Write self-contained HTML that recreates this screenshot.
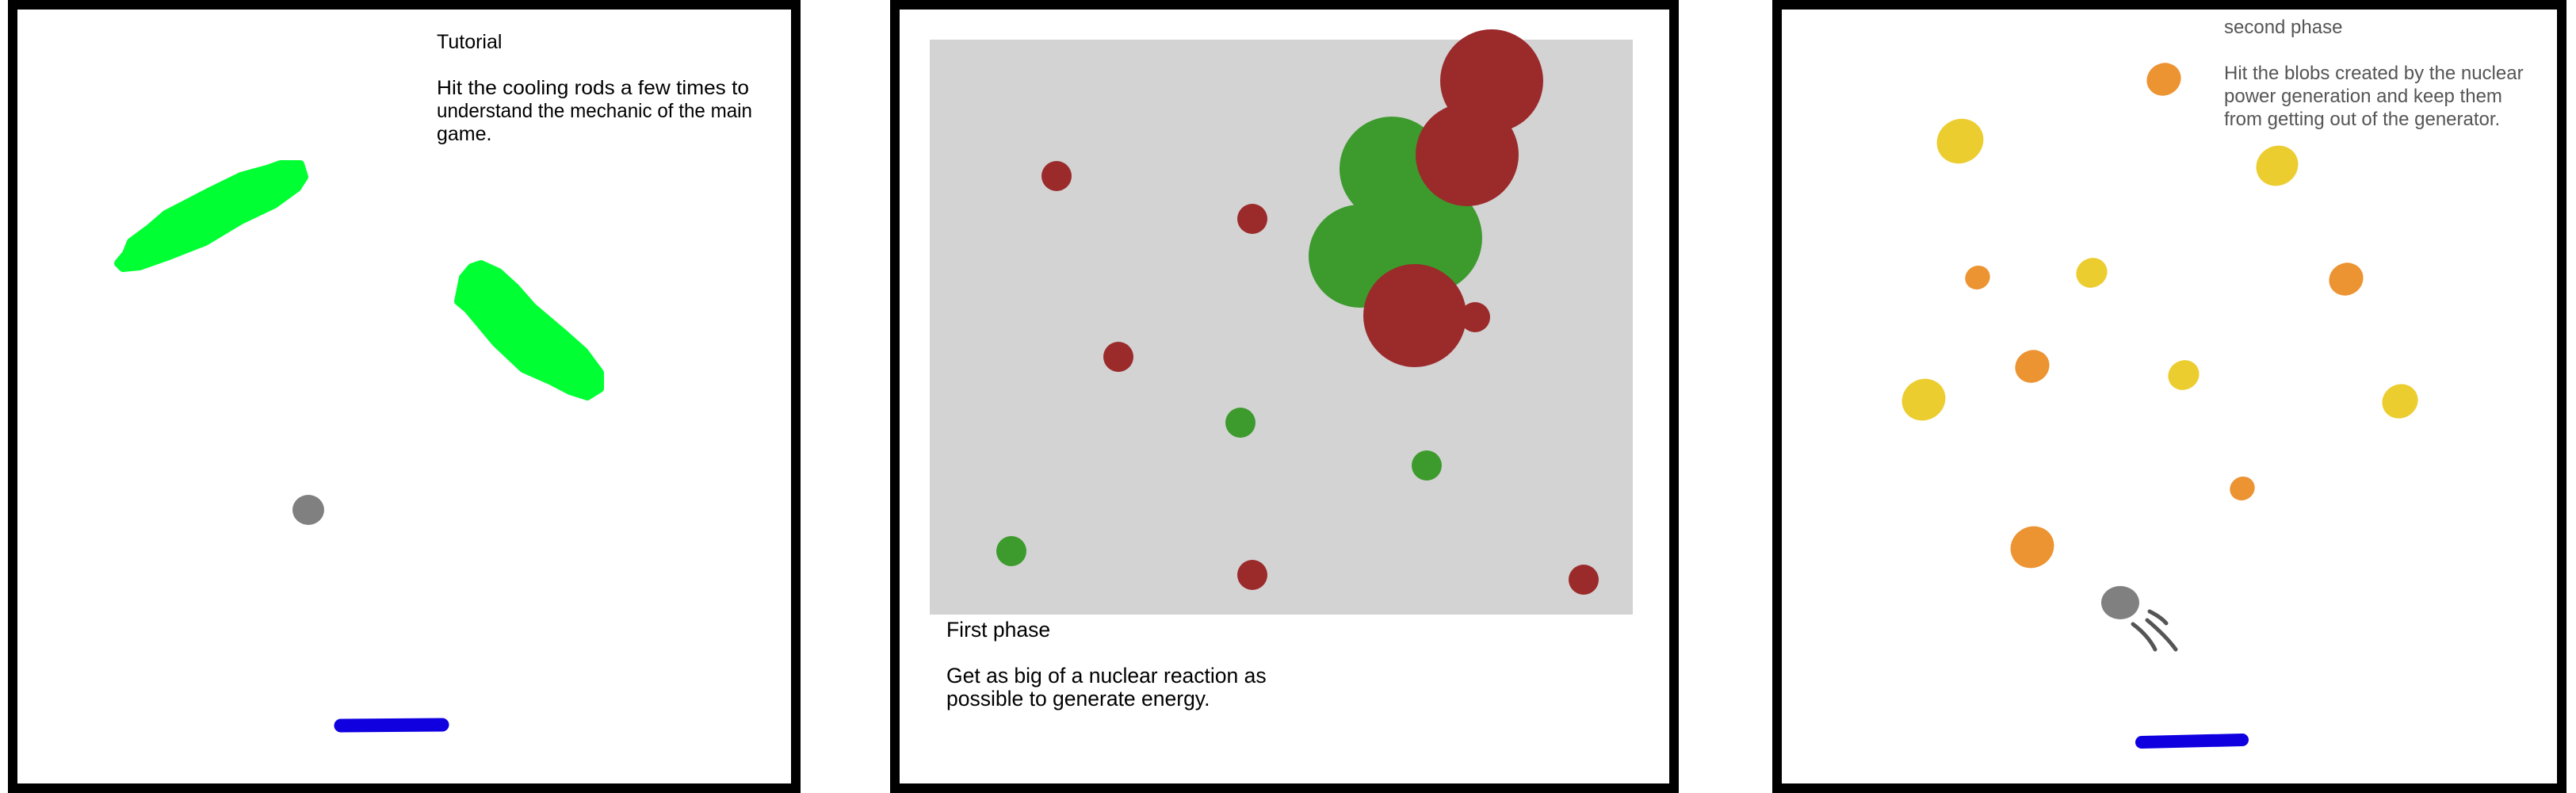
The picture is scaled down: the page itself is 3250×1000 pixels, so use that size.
<!DOCTYPE html>
<html><head><meta charset="utf-8">
<style>
html,body{margin:0;padding:0;background:#fff;}
body{width:3250px;height:1000px;overflow:hidden;position:relative;font-family:"Liberation Sans","DejaVu Sans",sans-serif;}
svg{position:absolute;left:0;top:0;}
text{font-family:"Liberation Sans","DejaVu Sans",sans-serif;font-size:24px;}
.big{font-size:26.5px;}
.mid{font-size:25px;}
</style></head>
<body>
<svg width="3250" height="1000" viewBox="0 0 3250 1000">
  <!-- Panel 1 -->
  <g>
    <rect x="16" y="6" width="988" height="988" fill="#fff" stroke="#000" stroke-width="12"/>
    <text class="mid" x="551" y="61" fill="#000">Tutorial</text>
    <text class="mid" x="551" y="119" fill="#000" textLength="394" lengthAdjust="spacingAndGlyphs">Hit the cooling rods a few times to</text>
    <text class="mid" x="551" y="148" fill="#000" textLength="398" lengthAdjust="spacingAndGlyphs">understand the mechanic of the main</text>
    <text class="mid" x="551" y="177" fill="#000">game.</text>
    <polygon points="149,332 159,320 165,305 188,288 209,270 242,253 263,242 304,222 337,213 354,207 379,207 384,223 375,237 346,258 304,278 259,305 213,323 176,336 155,338" fill="#00ff33" stroke="#00ff33" stroke-width="10" stroke-linejoin="round"/>
    <polygon points="578,380 584,350 595,337 607,333 629,343 651,363 672,387 711,420 737,443 757,470 757,490 741,500 719,493 694,480 660,465 626,433 590,390" fill="#00ff33" stroke="#00ff33" stroke-width="10" stroke-linejoin="round"/>
    <ellipse cx="389" cy="643" rx="20" ry="19" fill="#808080"/>
    <line x1="430" y1="915" x2="558" y2="914" stroke="#1000e0" stroke-width="17" stroke-linecap="round"/>
  </g>

  <!-- Panel 2 -->
  <g>
    <rect x="1129" y="6" width="983" height="988" fill="#fff" stroke="#000" stroke-width="12"/>
    <rect x="1173" y="50" width="887" height="725" fill="#d3d3d3"/>
    <g id="reaction"></g>
    <text class="big" x="1194" y="803" fill="#000">First phase</text>
    <text class="big" fill="#000">
      <tspan x="1194" y="861">Get as big of a nuclear reaction as</tspan>
      <tspan x="1194" y="890">possible to generate energy.</tspan>
    </text>
  </g>

  <!-- Panel 3 -->
  <g>
    <rect x="2242" y="6" width="990" height="988" fill="#fff" stroke="#000" stroke-width="12"/>
    <g id="blobs"></g>
    <text x="2806" y="42" fill="#555">second phase</text>
    <text fill="#555">
      <tspan x="2806" y="100">Hit the blobs created by the nuclear</tspan>
      <tspan x="2806" y="129">power generation and keep them</tspan>
      <tspan x="2806" y="158">from getting out of the generator.</tspan>
    </text>
    <ellipse cx="2675" cy="760" rx="24" ry="21" fill="#808080"/>
    <g stroke="#555" stroke-width="5" stroke-linecap="round" fill="none">
      <path d="M2712,771 C2720,775 2728,780 2733,786"/>
      <path d="M2709,782 C2722,793 2735,805 2745,819"/>
      <path d="M2691,787 C2703,796 2713,807 2719,819"/>
    </g>
    <line x1="2702" y1="936" x2="2829" y2="933" stroke="#1000e0" stroke-width="16" stroke-linecap="round"/>
  </g>
</svg>
<script>
// Reaction circles (first phase)
const reactX = [1756, 1800, 1716, 1882, 1851, 1785, 1861, 1333, 1580, 1411, 1580, 1998, 1565, 1800, 1276];
const reactY = [213, 300, 323, 102, 195, 398, 400, 222, 276, 450, 725, 731, 533, 587, 695];
const reactR = [66, 70, 65, 65, 65, 65, 19, 19, 19, 19, 19, 19, 19, 19, 19];
const reactType = ['g','g','g','r','r','r','r','r','r','r','r','r','g','g','g'];
// Blobs (second phase)
const blobX = [2730, 2473, 2873, 2495, 2639, 2960, 2564, 2755, 2427, 3028, 2829, 2564];
const blobY = [100, 178, 209, 350, 344, 352, 462, 473, 504, 506, 616, 690];
const blobR = [22, 30, 27, 16, 20, 22, 22, 20, 28, 23, 16, 28];
const blobType = ['o','y','y','o','y','o','o','y','y','y','o','o'];

const NS = 'http://www.w3.org/2000/svg';
const rg = document.getElementById('reaction');
for (let i = 0; i < reactX.length; i++) {
  const c = document.createElementNS(NS, 'circle');
  c.setAttribute('cx', reactX[i]);
  c.setAttribute('cy', reactY[i]);
  c.setAttribute('r', reactR[i]);
  c.setAttribute('fill', reactType[i] === 'g' ? '#3c9b2c' : '#9b2a2b');
  
  
  rg.appendChild(c);
}
const bg = document.getElementById('blobs');
for (let i = 0; i < blobX.length; i++) {
  const e = document.createElementNS(NS, 'ellipse');
  e.setAttribute('cx', blobX[i]);
  e.setAttribute('cy', blobY[i]);
  e.setAttribute('rx', blobR[i]);
  e.setAttribute('ry', blobR[i] * 0.92);
  e.setAttribute('transform', 'rotate(-30 ' + blobX[i] + ' ' + blobY[i] + ')');
  e.setAttribute('fill', blobType[i] === 'o' ? '#ec9332' : '#eccd30');
  
  
  bg.appendChild(e);
}
</script>
</body></html>
